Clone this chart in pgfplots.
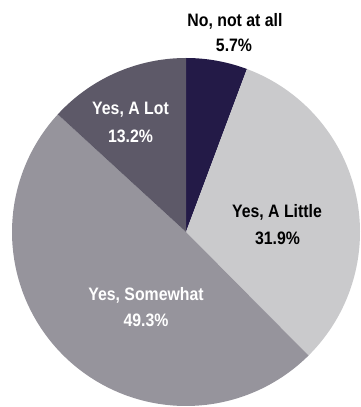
\documentclass[border=0pt]{standalone}
\usepackage{pgfplots}
\usepackage{pgfplotstable}
\pgfplotsset{compat=1.18}
\usepackage{fontspec}
\setmainfont{Liberation Sans}[FakeStretch=0.88]
\definecolor{cNo}{HTML}{231A47}
\definecolor{cLittle}{HTML}{CACACC}
\definecolor{cSome}{HTML}{96949C}
\definecolor{cLot}{HTML}{5D5968}
\pgfplotstableread{
label value
No 5.7
Little 31.9
Somewhat 49.3
Lot 13.2
}\piedata
\begin{document}
\begin{tikzpicture}
\pgfplotstablegetelem{0}{value}\of\piedata \let\vA\pgfplotsretval
\pgfplotstablegetelem{1}{value}\of\piedata \let\vB\pgfplotsretval
\pgfplotstablegetelem{2}{value}\of\piedata \let\vC\pgfplotsretval
\pgfplotstablegetelem{3}{value}\of\piedata \let\vD\pgfplotsretval
\pgfmathsetmacro\tot{\vA+\vB+\vC+\vD}
\pgfmathsetmacro\aA{90-\vA/\tot*360}
\pgfmathsetmacro\aB{\aA-\vB/\tot*360}
\pgfmathsetmacro\aC{\aB-\vC/\tot*360}
\begin{axis}[
  scale only axis, width=360pt, height=407pt,
  xmin=0, xmax=360, ymin=0, ymax=407,
  hide axis, clip=false,
]
\path (rel axis cs:0,0) rectangle (rel axis cs:1,1);
\addplot[fill=cNo, draw=none, domain=\aA:90, samples=60] ({186+174*cos(x)},{175+174*sin(x)}) -- (axis cs:186,175) -- cycle;
\addplot[fill=cLittle, draw=none, domain=\aB:\aA, samples=120] ({186+174*cos(x)},{175+174*sin(x)}) -- (axis cs:186,175) -- cycle;
\addplot[fill=cSome, draw=none, domain=\aC:\aB, samples=160] ({186+174*cos(x)},{175+174*sin(x)}) -- (axis cs:186,175) -- cycle;
\addplot[fill=cLot, draw=none, domain=-270:\aC, samples=60] ({186+174*cos(x)},{175+174*sin(x)}) -- (axis cs:186,175) -- cycle;
\tikzset{lab/.style={anchor=base, inner sep=0pt, font=\fontsize{18}{20}\selectfont\bfseries}}
\node[lab, black] at (axis cs:235,380.3) {No, not at all};
\node[lab, black] at (axis cs:234,355.3) {5.7\%};
\node[lab, black] at (axis cs:277,189.5) {Yes, A Little};
\node[lab, black] at (axis cs:277.5,162.8) {31.9\%};
\node[lab, white] at (axis cs:130.5,292) {Yes, A Lot};
\node[lab, white] at (axis cs:130.5,264) {13.2\%};
\node[lab, white] at (axis cs:146,106.3) {Yes, Somewhat};
\node[lab, white] at (axis cs:146,80.3) {49.3\%};
\end{axis}
\end{tikzpicture}
\end{document}
